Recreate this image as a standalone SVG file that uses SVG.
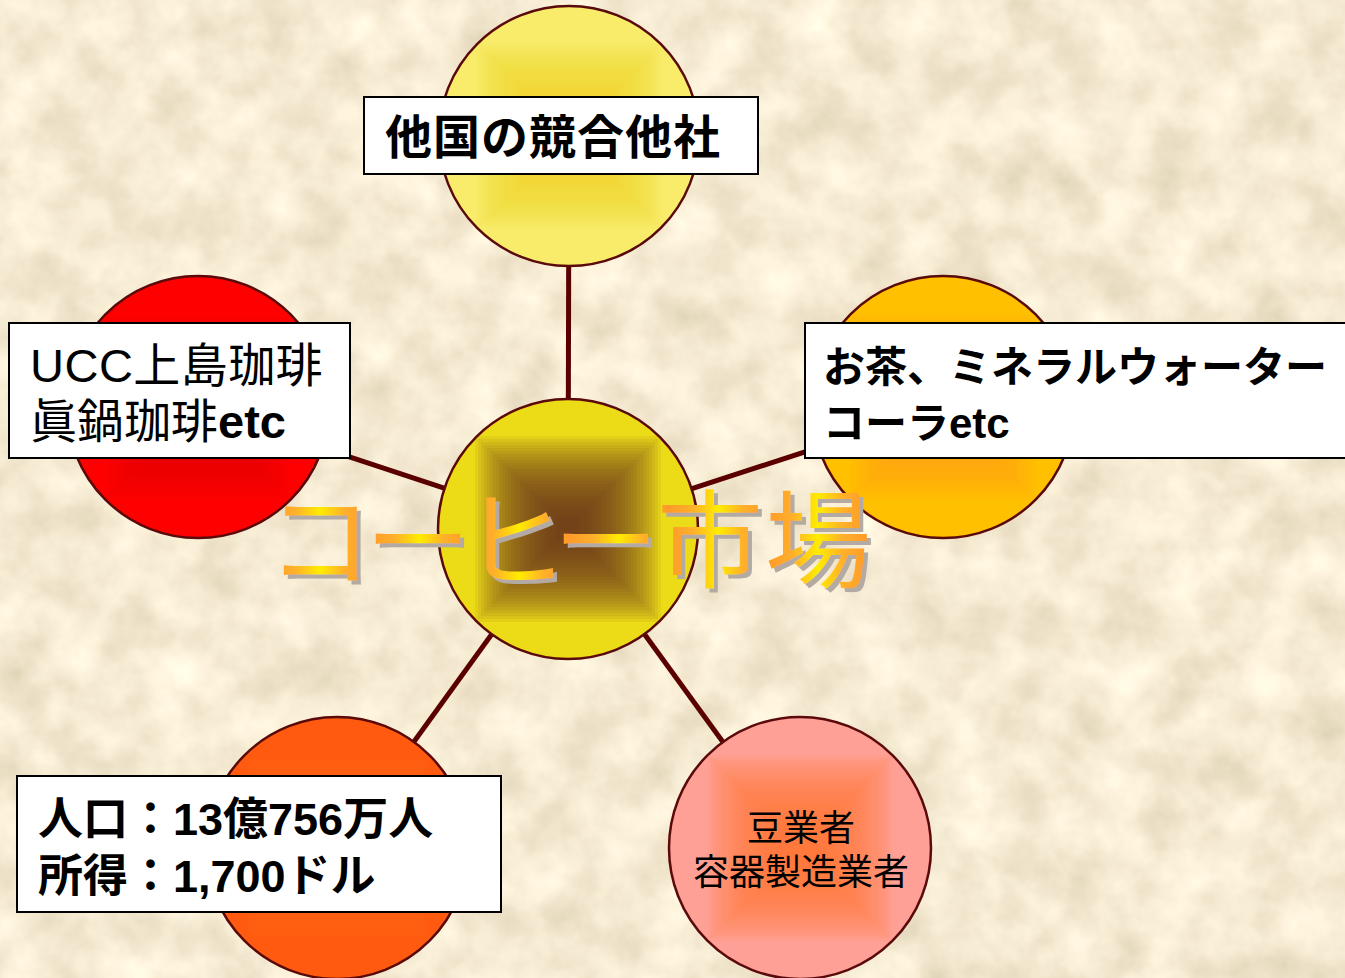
<svg xmlns="http://www.w3.org/2000/svg" xmlns:xlink="http://www.w3.org/1999/xlink" width="1345" height="978" viewBox="0 0 1345 978">
<style>
.ring{fill:none;stroke:#5a0a0a;stroke-width:2.5}
.box{fill:#ffffff;stroke:#000000;stroke-width:2}
.t{font-family:"Liberation Sans","Noto Sans CJK JP",sans-serif;fill:#000000}
.b{font-weight:bold}
.conn{stroke:#5a0000;stroke-width:5;fill:none}
.ttl{font-family:"Noto Sans CJK JP",sans-serif;font-size:106px;text-anchor:middle;fill:url(#tg)}
.s{fill:currentColor;fill-opacity:0.075}
</style>
<defs>
<filter id="paper" x="0" y="0" width="100%" height="100%">
<feTurbulence type="fractalNoise" baseFrequency="0.02" numOctaves="4" seed="7" result="n"/>
<feColorMatrix in="n" type="matrix" values="0.4 0 0 0 0.72  0.4 0 0 0 0.63  0.4 0 0 0 0.45  0 0 0 0 1"/>
</filter>
<filter id="shadow" x="-10%" y="-10%" width="130%" height="130%">
<feOffset in="SourceAlpha" dx="4" dy="4" result="o"/>
<feFlood flood-color="#b3aba3"/>
<feComposite operator="in" in2="o" result="s"/>
<feMerge><feMergeNode in="s"/><feMergeNode in="SourceGraphic"/></feMerge>
</filter>
<linearGradient id="tg" gradientUnits="userSpaceOnUse" x1="270" y1="0" x2="369.6" y2="0" spreadMethod="repeat">
<stop offset="0" stop-color="#ff9a2a"/>
<stop offset="0.25" stop-color="#ffb02a"/>
<stop offset="0.5" stop-color="#ffec00"/>
<stop offset="0.75" stop-color="#ffb02a"/>
<stop offset="1" stop-color="#ff9a2a"/>
</linearGradient>
<g id="sq">
<rect class="s" x="-93" y="-93" width="186" height="186"/>
<rect class="s" x="-90" y="-90" width="180" height="180"/>
<rect class="s" x="-87" y="-87" width="174" height="174"/>
<rect class="s" x="-84" y="-84" width="168" height="168"/>
<rect class="s" x="-81" y="-81" width="162" height="162"/>
<rect class="s" x="-78" y="-78" width="156" height="156"/>
<rect class="s" x="-75" y="-75" width="150" height="150"/>
<rect class="s" x="-72" y="-72" width="144" height="144"/>
<rect class="s" x="-69" y="-69" width="138" height="138"/>
<rect class="s" x="-66" y="-66" width="132" height="132"/>
<rect class="s" x="-63" y="-63" width="126" height="126"/>
<rect class="s" x="-60" y="-60" width="120" height="120"/>
<rect class="s" x="-57" y="-57" width="114" height="114"/>
<rect class="s" x="-54" y="-54" width="108" height="108"/>
<rect class="s" x="-51" y="-51" width="102" height="102"/>
<rect class="s" x="-48" y="-48" width="96" height="96"/>
<rect class="s" x="-45" y="-45" width="90" height="90"/>
<rect class="s" x="-42" y="-42" width="84" height="84"/>
<rect class="s" x="-39" y="-39" width="78" height="78"/>
<rect class="s" x="-36" y="-36" width="72" height="72"/>
<rect class="s" x="-33" y="-33" width="66" height="66"/>
<rect class="s" x="-30" y="-30" width="60" height="60"/>
<rect class="s" x="-27" y="-27" width="54" height="54"/>
<rect class="s" x="-24" y="-24" width="48" height="48"/>
<rect class="s" x="-21" y="-21" width="42" height="42"/>
<rect class="s" x="-18" y="-18" width="36" height="36"/>
<rect class="s" x="-15" y="-15" width="30" height="30"/>
<rect class="s" x="-12" y="-12" width="24" height="24"/>
<rect class="s" x="-9" y="-9" width="18" height="18"/>
<rect class="s" x="-6" y="-6" width="12" height="12"/>
</g>
</defs>

<rect x="0" y="0" width="1345" height="978" filter="url(#paper)"/>

<g id="connectors">
<line class="conn" x1="568" y1="529" x2="569" y2="136"/>
<line class="conn" x1="568" y1="529" x2="198" y2="407"/>
<line class="conn" x1="568" y1="529" x2="943" y2="407"/>
<line class="conn" x1="568" y1="529" x2="337" y2="848"/>
<line class="conn" x1="568" y1="529" x2="800" y2="848"/>
</g>

<g id="node-top">
<circle cx="569" cy="136" r="130" fill="#f8ec6a"/>
<use xlink:href="#sq" href="#sq" x="569" y="136" style="color:#f2d428"/>
<circle class="ring" cx="569" cy="136" r="130"/>
<rect class="box" x="364" y="97" width="394" height="77"/>
<text class="t b" x="385" y="154" font-size="47" letter-spacing="1">他国の競合他社</text>
</g>

<g id="node-left">
<circle cx="198" cy="407" r="131" fill="#ff0000"/>
<use xlink:href="#sq" href="#sq" x="198" y="407" style="color:#e00000"/>
<circle class="ring" cx="198" cy="407" r="131"/>
<rect class="box" x="9" y="323" width="341" height="135"/>
<text class="t" x="30" y="382" font-size="47" letter-spacing="0.5">UCC上島珈琲</text>
<text class="t" x="30" y="438" font-size="47">眞鍋珈琲<tspan class="b">etc</tspan></text>
</g>

<g id="node-right">
<circle cx="943" cy="407" r="131" fill="#ffc000"/>
<use xlink:href="#sq" href="#sq" x="943" y="407" style="color:#ffa020"/>
<circle class="ring" cx="943" cy="407" r="131"/>
<rect class="box" x="805" y="323" width="545" height="135"/>
<text class="t b" x="823" y="382" font-size="42">お茶、ミネラルウォーター</text>
<text class="t b" x="823" y="438" font-size="42">コーラetc</text>
</g>

<g id="node-center">
<circle cx="568" cy="529" r="130" fill="#ecdc18"/>
<use xlink:href="#sq" href="#sq" x="568" y="529" style="color:#6a3018"/>
<circle class="ring" cx="568" cy="529" r="130"/>
</g>

<g id="node-bottom-left">
<circle cx="337" cy="848" r="131" fill="#ff5a10"/>
<use xlink:href="#sq" href="#sq" x="337" y="848" style="color:#ff7020"/>
<circle class="ring" cx="337" cy="848" r="131"/>
<rect class="box" x="17" y="776" width="484" height="136"/>
<text class="t b" x="38" y="835" font-size="45">人口：13億756万人</text>
<text class="t b" x="38" y="892" font-size="45">所得：1,700ドル</text>
</g>

<g id="node-bottom-right">
<circle cx="800" cy="848" r="131" fill="#ffa096"/>
<use xlink:href="#sq" href="#sq" x="800" y="848" style="color:#ff7a30"/>
<circle class="ring" cx="800" cy="848" r="131"/>
<text class="t" x="801" y="841" font-size="36" text-anchor="middle">豆業者</text>
<text class="t" x="801" y="885" font-size="36" text-anchor="middle">容器製造業者</text>
</g>

<g id="title" filter="url(#shadow)">
<text class="ttl" x="320 418 515 606 710 818" y="579">コーヒー市場</text>
</g>
</svg>
